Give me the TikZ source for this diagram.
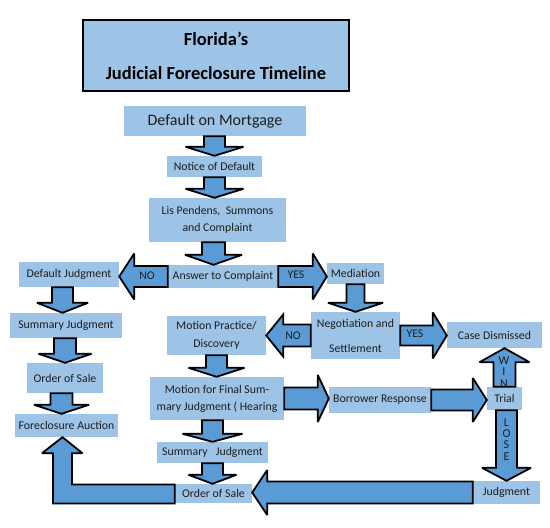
\documentclass[tikz,border=0pt]{standalone}
\usepackage{fontspec}
\setmainfont{Carlito}
\usepackage{xcolor}
\usepackage{tikz}
\usetikzlibrary{calc}
\definecolor{boxblue}{HTML}{9DC3E6}
\definecolor{arrowblue}{HTML}{5B9BD5}
\definecolor{inkgray}{HTML}{1E1E1E}

% block arrow: from, to, half shaft, half head, head length
\newcommand{\blockarrow}[5]{%
  \coordinate (ba-s) at (#1);
  \coordinate (ba-t) at (#2);
  \coordinate (ba-h) at ($(ba-t)!#5!(ba-s)$);
  \draw[barrow] ($(ba-s)!#3!90:(ba-t)$) -- ($(ba-h)!#3!90:(ba-t)$)
    -- ($(ba-h)!#4!90:(ba-t)$) -- (ba-t) -- ($(ba-h)!#4!-90:(ba-t)$)
    -- ($(ba-h)!#3!-90:(ba-t)$) -- ($(ba-s)!#3!-90:(ba-t)$) -- cycle;
}

\begin{document}
\begin{tikzpicture}[x=1pt, y=-1pt,
    box/.style={fill=boxblue, inner sep=0pt, align=center, text=inkgray,
      font=\fontsize{11.8}{17}\selectfont},
    titlebox/.style={box, draw=black, line width=1.8pt, text=black,
      font=\bfseries\fontsize{18.5}{34}\selectfont},
    barrow/.style={fill=arrowblue, draw=black, line width=1.8pt,
      line join=miter, miter limit=3},
    lbl/.style={text=inkgray, inner sep=0pt, font=\fontsize{11.8}{14}\selectfont},
    spell/.style={text=inkgray, inner sep=0pt, align=center,
      font=\fontsize{12}{11.2}\selectfont}]
  \useasboundingbox (0,0) rectangle (550,528);

  \node[titlebox, minimum width=266pt, minimum height=71pt] (title) at (216,55.5)
    {Florida’s\\Judicial Foreclosure Timeline};

  % main column
  \node[box, minimum width=182pt, minimum height=30pt,
    font=\fontsize{16}{19}\selectfont] (dom) at (215,121) {Default on Mortgage};
  \node[box, minimum width=95pt, minimum height=21pt] (nod) at (214.5,166.5) {Notice of Default};
  \node[box, minimum width=137pt, minimum height=44pt] (lis) at (217.5,220)
    {Lis Pendens,\ \ Summons\\and Complaint};
  \node[box, minimum width=110pt, minimum height=23pt] (atc) at (223,276.5) {Answer to Complaint};
  \node[box, minimum width=99pt, minimum height=39pt,
    font=\fontsize{11.8}{18}\selectfont] (mp) at (216.5,335.5) {Motion Practice/\\Discovery};
  \node[box, minimum width=134pt, minimum height=43pt] (mfsj) at (217,398.5)
    {Motion for Final Sum-\\mary Judgment ( Hearing};
  \node[box, minimum width=111pt, minimum height=21pt] (sj2) at (212.5,452.5) {Summary\ \ \ Judgment};
  \node[box, minimum width=77pt, minimum height=19pt] (oos2) at (213.5,493.5) {Order of Sale};

  % left column
  \node[box, minimum width=100pt, minimum height=25pt] (dj) at (69,274.5) {Default Judgment};
  \node[box, minimum width=112pt, minimum height=25pt] (sj1) at (66,325.5) {Summary Judgment};
  \node[box, minimum width=76pt, minimum height=30pt] (oos1) at (65,378) {Order of Sale};
  \node[box, minimum width=103pt, minimum height=23pt] (fa) at (66.5,425.5) {Foreclosure Auction};

  % right side
  \node[box, minimum width=57pt, minimum height=21pt] (med) at (355.5,273.5) {Mediation};
  \node[box, minimum width=89pt, minimum height=47pt,
    font=\fontsize{11.8}{25}\selectfont] (neg) at (355.5,335.5) {Negotiation and\\Settlement};
  \node[box, minimum width=95pt, minimum height=26pt] (cd) at (494.5,335) {Case Dismissed};
  \node[box, minimum width=102pt, minimum height=26pt] (br) at (380,400) {Borrower Response};
  \node[box, minimum width=35pt, minimum height=23pt] (trial) at (504.5,398.5) {Trial};
  \node[box, minimum width=67pt, minimum height=23pt] (jdg) at (506.5,492.5) {Judgment};

  % arrows
  \blockarrow{nod.north |- dom.south}{nod.north}{10.5pt}{29pt}{9pt}
  \blockarrow{nod.south}{nod.south |- lis.north}{10.5pt}{29pt}{9pt}
  \blockarrow{$(lis.south)+(-4,0)$}{$(lis.south |- atc.north)+(-4,0)$}{11.5pt}{28.5pt}{10pt}
  \blockarrow{atc.west}{atc.west -| dj.east}{10.5pt}{23pt}{15pt}
  \blockarrow{atc.east}{atc.east -| med.west}{10.5pt}{23pt}{14pt}
  \blockarrow{med.south}{med.south |- neg.north}{9pt}{27.5pt}{9pt}
  \blockarrow{neg.west}{neg.west -| mp.east}{11pt}{21pt}{17pt}
  \blockarrow{neg.east}{neg.east -| cd.west}{10pt}{23pt}{14pt}
  \blockarrow{mp.south}{mp.south |- mfsj.north}{10.5pt}{28pt}{9pt}
  \blockarrow{mfsj.east}{mfsj.east -| br.west}{11pt}{23.5pt}{11pt}
  \blockarrow{br.east}{br.east -| trial.west}{10.5pt}{22pt}{14pt}
  \blockarrow{trial.north}{trial.north |- cd.south}{11pt}{25pt}{14pt}
  \blockarrow{jdg.north |- trial.south}{jdg.north}{10.5pt}{24.5pt}{13pt}
  \blockarrow{jdg.west}{jdg.west -| oos2.east}{11pt}{22.5pt}{15pt}
  \blockarrow{sj2.north |- mfsj.south}{sj2.north}{10.5pt}{30pt}{8pt}
  \blockarrow{sj2.south}{sj2.south |- oos2.north}{10.5pt}{24pt}{9pt}
  \blockarrow{$(dj.south)+(-6.5,0)$}{$(dj.south |- sj1.north)+(-6.5,0)$}{10.5pt}{25.5pt}{10pt}
  \blockarrow{oos1.north |- sj1.south}{oos1.north}{11pt}{26.5pt}{9pt}
  \blockarrow{$(oos1.south)+(-3.5,0)$}{$(oos1.south |- fa.north)+(-3.5,0)$}{11pt}{27.5pt}{9pt}

  % order of sale back to foreclosure auction
  \coordinate (fa-in) at ($(fa.south)+(-4,0)$);
  \draw[barrow] ($(oos2.west)+(0,-9)$) -| ($(fa-in)+(9.5,16)$) -- ++(10.5,0)
    -- (fa-in) -- ($(fa-in)+(-20.5,16)$) -- ++(11,0) |- ($(oos2.west)+(0,10)$) -- cycle;

  % labels on arrows
  \node[lbl] (no1) at (147,275.5) {NO};
  \node[lbl] (yes1) at (296,275) {YES};
  \node[lbl] (no2) at (293,336) {NO};
  \node[lbl] (yes2) at (415,334) {YES};
  \node[spell] (win) at (504,372) {W\\I\\N};
  \node[spell] (lose) at (506.5,439.5) {L\\O\\S\\E};
\end{tikzpicture}
\end{document}
